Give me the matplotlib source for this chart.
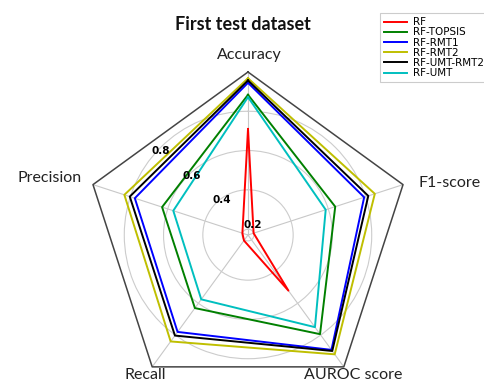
import numpy as np
import matplotlib
matplotlib.use("Agg")
import matplotlib.pyplot as plt
from matplotlib import transforms

categories = ["Accuracy", "F1-score", "AUROC score", "Recall", "Precision"]
series_names = ["RF", "RF-TOPSIS", "RF-RMT1", "RF-RMT2", "RF-UMT-RMT2", "RF-UMT"]
series_colors = ["r", "g", "b", "y", "k", "c"]
rf          = [0.71, 0.20, 0.52, 0.205, 0.20]
rf_topsis   = [0.884, 0.637, 0.794, 0.63, 0.63]
rf_rmt1     = [0.945, 0.792, 0.893, 0.78, 0.776]
rf_rmt2     = [0.968, 0.849, 0.921, 0.84, 0.832]
rf_umt_rmt2 = [0.957, 0.814, 0.90, 0.803, 0.803]
rf_umt      = [0.872, 0.586, 0.75, 0.575, 0.57]
series_values = [rf, rf_topsis, rf_rmt1, rf_rmt2, rf_umt_rmt2, rf_umt]
r_ticks = [0.2, 0.4, 0.6, 0.8]
r_min, r_max = 0.17, 1.0

W, H = 485, 383
fig = plt.figure(figsize=(W / 100, H / 100), dpi=100)
cx, cy, R = 248, 235, 163
ax = fig.add_axes([(cx - R) / W, (H - cy - R) / H, 2 * R / W, 2 * R / H], polar=True)
ax.set_theta_offset(np.pi / 2)
ax.set_theta_direction(-1)
ax.set_ylim(r_min, r_max)

n = len(categories)
angles = np.linspace(0, 2 * np.pi, n, endpoint=False)
closed = np.concatenate([angles, angles[:1]])

for name, vals, col in zip(series_names, series_values, series_colors):
    v = np.array(vals + vals[:1])
    ax.plot(closed, v, color=col, lw=1.4, label=name, zorder=3)

# outer pentagon frame
ax.plot(closed, [r_max] * (n + 1), color="#444444", lw=1.1, clip_on=False, zorder=2)
ax.spines["polar"].set_visible(False)

ax.set_xticks(angles)
ax.set_xticklabels([])
ax.set_yticks(r_ticks)
ax.set_yticklabels([])
ax.grid(True, color="#cccccc", lw=0.8)
ax.xaxis.grid(True, color="#c8c8c8", lw=0.8)

# radial labels
lab_theta = np.deg2rad(308.6)
off = transforms.offset_copy(ax.transData, fig=fig, x=9.3, y=6.8, units="dots")
for t in r_ticks:
    ax.text(lab_theta, t, f"{t:.1f}", transform=off, ha="center", va="center",
            fontsize=7.5, fontweight="bold", family="DejaVu Sans", zorder=5)

lab_font = ["Lato", "DejaVu Sans"]
label_px = {"Accuracy": (249, 55, "center"), "F1-score": (419, 183, "left"),
            "AUROC score": (353, 375, "center"), "Recall": (145, 375, "center"),
            "Precision": (82, 178, "right")}
for c in categories:
    x, y, ha = label_px[c]
    fig.text(x / W, 1 - y / H, c, ha=ha, va="center", fontsize=11.5, family=lab_font,
             color="#222222")

fig.text(243 / W, 1 - 25 / H, "First test dataset", ha="center", va="center",
         fontsize=13, fontweight="bold", family=lab_font, color="#111111")

leg = ax.legend(loc="upper left", bbox_to_anchor=(380 / W, 1 - 13 / H),
                bbox_transform=fig.transFigure, borderaxespad=0, fontsize=7.5,
                labelspacing=0.02, handlelength=2.2, handletextpad=0.6,
                fancybox=False, edgecolor="#cccccc", framealpha=1, borderpad=0.4)
leg.get_frame().set_linewidth(0.8)

fig.savefig("out.png", dpi=100)
